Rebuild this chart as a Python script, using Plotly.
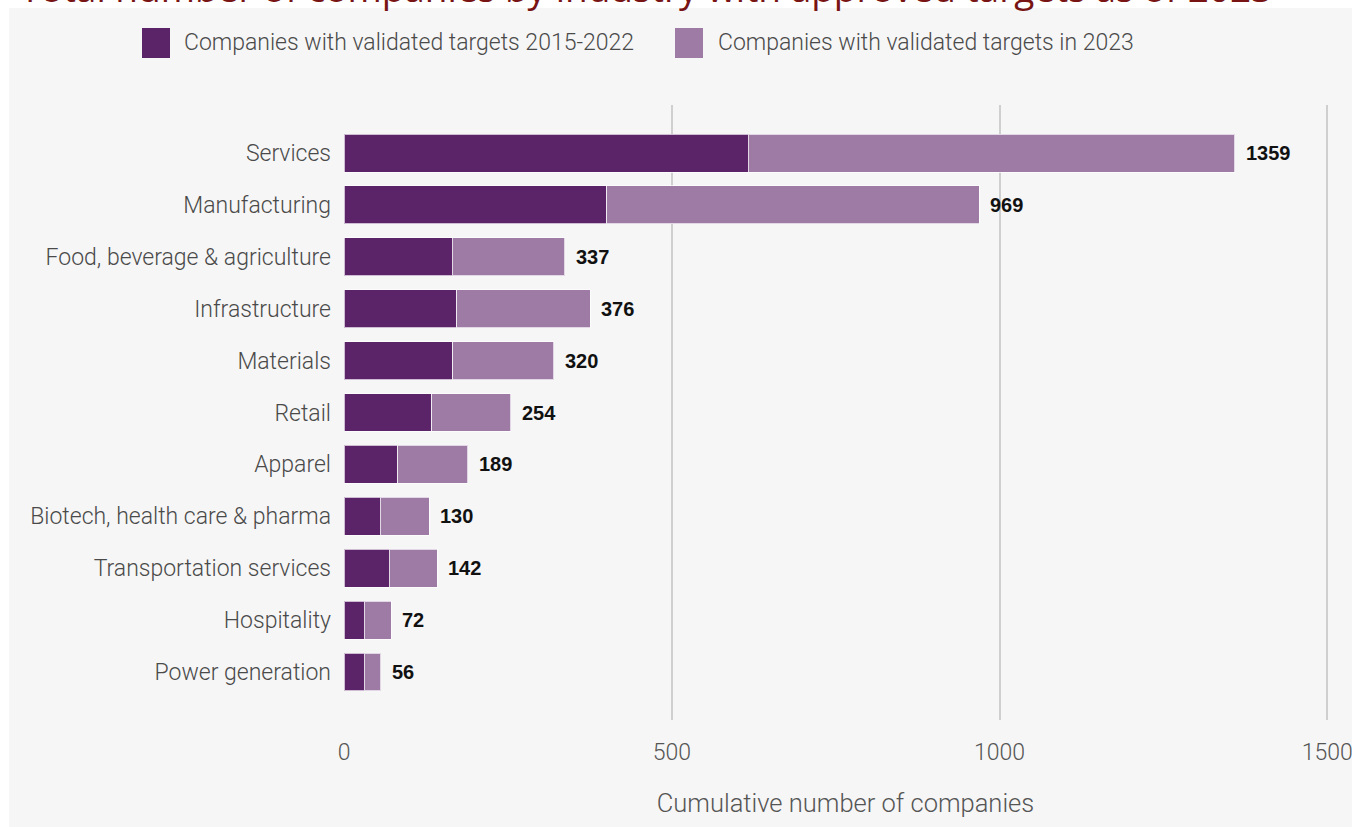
import plotly.graph_objects as go

# ---- data ----
industries = [
    "Services", "Manufacturing", "Food, beverage & agriculture", "Infrastructure",
    "Materials", "Retail", "Apparel", "Biotech, health care & pharma",
    "Transportation services", "Hospitality", "Power generation",
]
validated_2015_2022 = [617, 401, 165, 172, 166, 134, 82, 55, 69, 31, 31]
validated_2023 = [742, 568, 172, 204, 154, 120, 107, 75, 73, 41, 25]
total_labels = [1359, 969, 337, 376, 320, 254, 189, 130, 142, 72, 56]
x_ticks = [0, 500, 1000, 1500]

series_names = ["Companies with validated targets 2015-2022",
                "Companies with validated targets in 2023"]
title_text = "Total number of companies by industry with approved targets as of 2023"

# ---- style ----
W, H = 1355, 827
ML, MR, MT, MB = 344, 8, 105, 107
PW, PH = W - ML - MR, H - MT - MB
DARK = "#5b2469"
LIGHT = "#9e7ba5"
BG = "#f6f6f6"
FONT = "Roboto"


def px_x(px):
    return (px - ML) / PW


def px_y(py):
    return (H - MB - py) / PH


fig = go.Figure()
fig.add_trace(go.Bar(
    y=industries, x=validated_2015_2022, orientation="h", name=series_names[0],
    marker=dict(color=DARK, line=dict(color="rgba(255,255,255,0.7)", width=1)),
    showlegend=False,
))
fig.add_trace(go.Bar(
    y=industries, x=validated_2023, orientation="h", name=series_names[1],
    marker=dict(color=LIGHT, line=dict(color="rgba(255,255,255,0.7)", width=1)),
    showlegend=False,
))

annotations = []
for ind, a, b, lab in zip(industries, validated_2015_2022, validated_2023, total_labels):
    annotations.append(dict(
        x=a + b, y=ind, xref="x", yref="y", text=str(lab), showarrow=False,
        xanchor="left", yanchor="middle", xshift=9,
        font=dict(family="Liberation Sans", size=20, color="#111111", weight="bold"),
    ))

# manual legend
shapes = []
legend_items = [(142, 182, DARK, series_names[0]), (675, 716, LIGHT, series_names[1])]
for sx, tx, col, name in legend_items:
    shapes.append(dict(type="rect", xref="paper", yref="paper",
                       x0=px_x(sx), x1=px_x(sx + 28), y0=px_y(58), y1=px_y(28),
                       fillcolor=col, line=dict(width=0), layer="above"))
    annotations.append(dict(x=px_x(tx), y=px_y(43), xref="paper", yref="paper",
                            text=name, showarrow=False, xanchor="left", yanchor="middle",
                            font=dict(family=FONT, size=23, color="#4a4a4a", weight=300)))

# dotted zero line
shapes.append(dict(type="line", xref="x", yref="paper", x0=0, x1=0, y0=0, y1=1,
                   line=dict(color="#a0a0a0", width=2, dash="dot"), layer="below"))
# white frame strips of the original image
shapes.append(dict(type="rect", xref="paper", yref="paper", x0=px_x(0), x1=px_x(W),
                   y0=px_y(8), y1=px_y(0), fillcolor="white", line=dict(width=0), layer="above"))
shapes.append(dict(type="rect", xref="paper", yref="paper", x0=px_x(0), x1=px_x(9),
                   y0=px_y(H), y1=px_y(0), fillcolor="white", line=dict(width=0), layer="above"))
shapes.append(dict(type="rect", xref="paper", yref="paper", x0=px_x(1352), x1=px_x(W),
                   y0=px_y(H), y1=px_y(0), fillcolor="white", line=dict(width=0), layer="above"))

# cut-off title
annotations.append(dict(x=px_x(18), y=px_y(15.5), xref="paper", yref="paper",
                        text=title_text, showarrow=False, xanchor="left", yanchor="bottom",
                        font=dict(family="Open Sans", size=37, color="#781414")))

fig.update_layout(
    width=W, height=H,
    margin=dict(l=ML, r=MR, t=MT, b=MB, pad=0, autoexpand=False),
    paper_bgcolor=BG, plot_bgcolor=BG,
    barmode="stack", bargap=0.268,
    annotations=annotations, shapes=shapes,
    xaxis=dict(range=[0, 1530], tickvals=x_ticks, showgrid=True, gridcolor="#cfcfcf",
               gridwidth=2, zeroline=True, zerolinecolor=BG, zerolinewidth=1,
               showline=False, ticks="", ticklabelstandoff=16, automargin=False,
               tickfont=dict(family=FONT, size=23, color="#555555", weight=300),
               title=dict(text="Cumulative number of companies", standoff=29,
                          font=dict(family=FONT, size=25.5, color="#555555", weight=300))),
    yaxis=dict(categoryorder="array", categoryarray=industries,
               range=[10.925, -0.925], showgrid=False, zeroline=False, showline=False,
               ticks="", ticklabelstandoff=12, automargin=False,
               tickfont=dict(family=FONT, size=23, color="#4a4a4a", weight=300)),
)

fig.write_html("out.html")
